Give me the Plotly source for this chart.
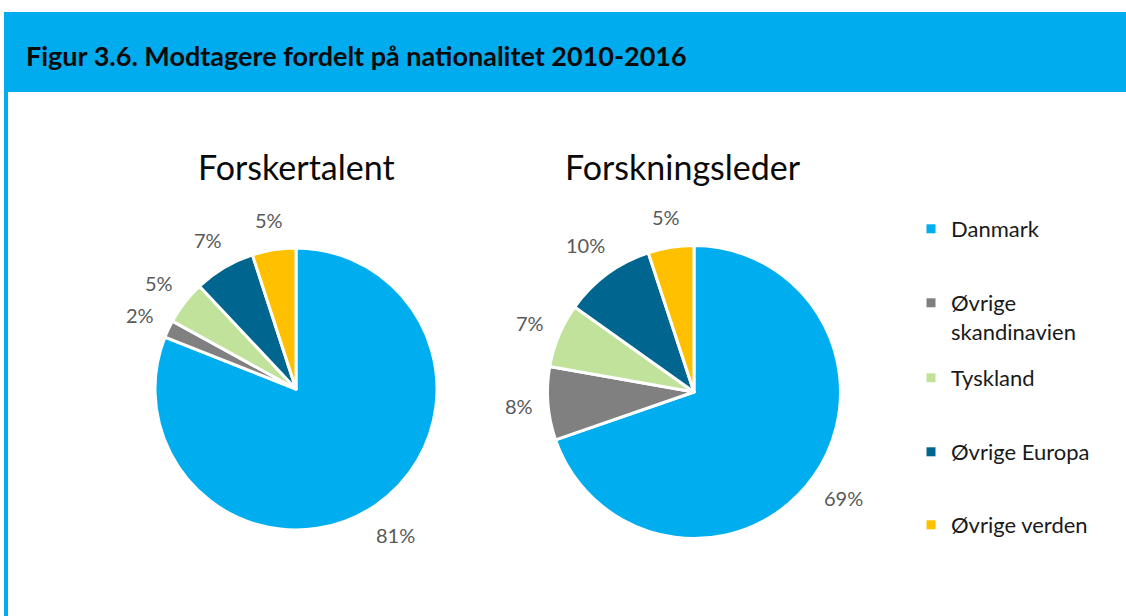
import math
import plotly.graph_objects as go

# ---- data ----
categories = ["Danmark", "Øvrige skandinavien", "Tyskland", "Øvrige Europa", "Øvrige verden"]
legend_labels = ["Danmark", "Øvrige<br>skandinavien", "Tyskland", "Øvrige Europa", "Øvrige verden"]
forskertalent = [81, 2, 5, 7, 5]
forskningsleder = [69, 8, 7, 10, 5]
chart_titles = ["Forskertalent", "Forskningsleder"]
main_title = "Figur 3.6. Modtagere fordelt på nationalitet 2010-2016"

colors = ["#00ADEF", "#808080", "#C0E29A", "#00668F", "#FFC000"]
W, H = 1126, 616
FONT = "Lato"
LABEL_SIZE = 20

def px_x(v):
    return v / W

def px_y(v):
    return 1 - v / H

fig = go.Figure()
annotations = []

pies = [
    (forskertalent, (296, 389, 141)),
    (forskningsleder, (694, 392, 146.5)),
]
for vals, (cx, cy, r) in pies:
    fig.add_trace(go.Pie(
        labels=categories,
        values=vals,
        sort=False,
        direction="clockwise",
        rotation=0,
        marker=dict(colors=colors, line=dict(color="white", width=3)),
        textinfo="none",
        hoverinfo="label+value",
        showlegend=False,
        domain=dict(x=[px_x(cx - r), px_x(cx + r)], y=[px_y(cy + r), px_y(cy - r)]),
    ))
    # data labels placed outside each slice at its mid angle (derived from values)
    total = sum(vals)
    cum = 0
    for v in vals:
        mid = (cum + v / 2) / total * 2 * math.pi
        cum += v
        dx, dy = math.sin(mid), -math.cos(mid)
        txt = f"{v}%"
        bw = 0.5 * LABEL_SIZE * len(txt)
        bh = LABEL_SIZE * 1.1
        ext = abs(dx) * bw / 2 + abs(dy) * bh / 2
        d = r + 18 + ext
        annotations.append(dict(
            text=txt, xref="paper", yref="paper",
            x=px_x(cx + dx * d), y=px_y(cy + dy * d),
            xanchor="center", yanchor="middle", showarrow=False,
            font=dict(family=FONT, size=LABEL_SIZE, color="#595959"),
        ))

# legend via dummy traces, one legend per entry
legend_y = [229, 303, 378, 452, 525]
LEG_SIZE = 22
layout_legends = {}
for i, (lab, col) in enumerate(zip(legend_labels, colors)):
    key = "legend" if i == 0 else f"legend{i+1}"
    fig.add_trace(go.Scatter(
        x=[None], y=[None], mode="markers", name=lab,
        marker=dict(symbol="square", size=9, color=col),
        legend=key, showlegend=True, hoverinfo="skip",
    ))
    layout_legends[key] = dict(
        x=px_x(911), y=px_y(legend_y[i] - 21), xanchor="left", yanchor="top",
        font=dict(family=FONT, size=LEG_SIZE, color="#1a1a1a"),
        bgcolor="rgba(0,0,0,0)", borderwidth=0, itemclick=False, itemdoubleclick=False,
        valign="top",
    )

shapes = [
    dict(type="rect", xref="paper", yref="paper", x0=px_x(4), x1=1, y0=px_y(92), y1=px_y(12),
         fillcolor="#00ACEE", line=dict(width=0), layer="below"),
    dict(type="rect", xref="paper", yref="paper", x0=px_x(4), x1=px_x(8), y0=0, y1=px_y(92),
         fillcolor="#00ACEE", line=dict(width=0), layer="below"),
]

annotations += [
    dict(text=f"<b>{main_title}</b>", xref="paper", yref="paper", x=px_x(24), y=px_y(55),
         xanchor="left", yanchor="middle", showarrow=False,
         font=dict(family=FONT, size=27, color="#0a0a0a")),
    dict(text=chart_titles[0], xref="paper", yref="paper", x=px_x(296), y=px_y(167),
         xanchor="center", yanchor="middle", showarrow=False,
         font=dict(family=FONT, size=34, color="#0a0a0a")),
    dict(text=chart_titles[1], xref="paper", yref="paper", x=px_x(683), y=px_y(167),
         xanchor="center", yanchor="middle", showarrow=False,
         font=dict(family=FONT, size=34, color="#0a0a0a")),
]

fig.update_layout(
    width=W, height=H,
    margin=dict(l=0, r=0, t=0, b=0),
    paper_bgcolor="white", plot_bgcolor="white",
    xaxis=dict(visible=False), yaxis=dict(visible=False),
    shapes=shapes, annotations=annotations,
    **layout_legends,
)

fig.write_html(
    "out.html",
    config={"displayModeBar": False},
    post_script="document.body.style.margin='0';document.body.style.overflow='hidden';",
)
